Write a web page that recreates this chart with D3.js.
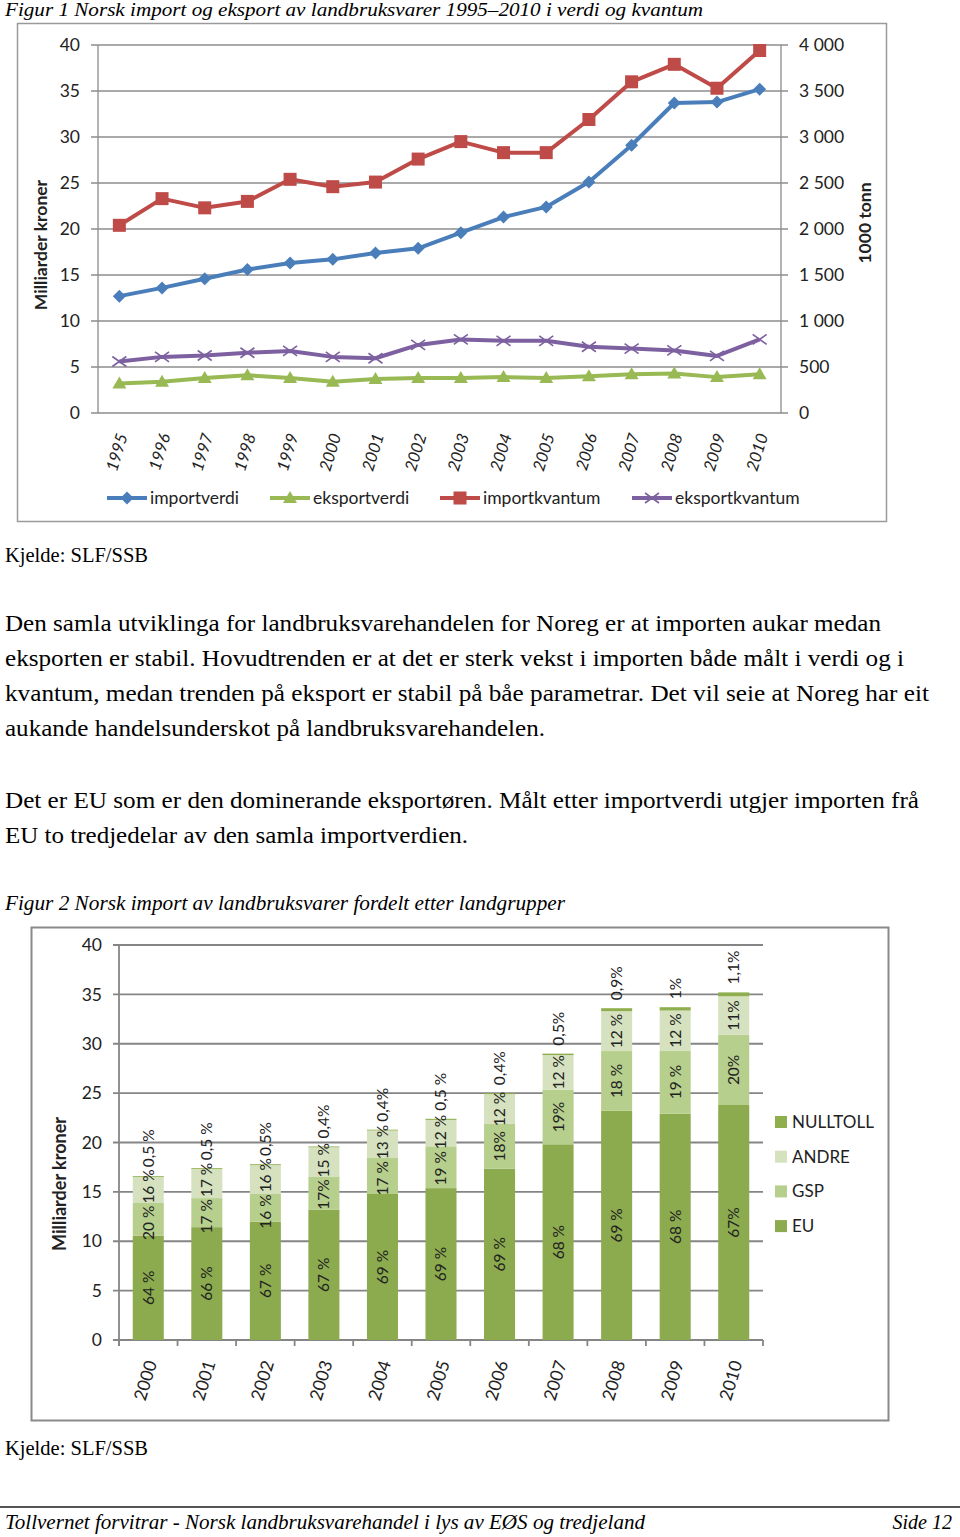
<!DOCTYPE html>
<html><head><meta charset="utf-8">
<script src="https://cdn.jsdelivr.net/npm/d3@7"></script>
<style>
html,body{margin:0;padding:0;background:#fff;}
svg{display:block;}
</style></head>
<body>
<svg id="page" width="960" height="1537"></svg>
<script>
// ---------- DATA ----------
const years1 = ["1995","1996","1997","1998","1999","2000","2001","2002","2003","2004","2005","2006","2007","2008","2009","2010"];
const importverdi = [12.7,13.6,14.6,15.6,16.3,16.7,17.4,17.9,19.6,21.3,22.4,25.1,29.1,33.7,33.8,35.2];
const eksportverdi = [3.2,3.4,3.8,4.1,3.8,3.4,3.7,3.8,3.8,3.9,3.8,4.0,4.2,4.3,3.9,4.2];
const importkvantum = [2040,2330,2230,2300,2540,2460,2510,2760,2950,2830,2830,3190,3600,3790,3530,3940];
const eksportkvantum = [560,610,625,655,675,610,595,740,800,785,785,720,700,680,620,800];
const leftTicks1 = [0,5,10,15,20,25,30,35,40];
const rightTicks1 = [0,500,1000,1500,2000,2500,3000,3500,4000];
const rightTickLabels1 = ["0","500","1 000","1 500","2 000","2 500","3 000","3 500","4 000"];

const years2 = ["2000","2001","2002","2003","2004","2005","2006","2007","2008","2009","2010"];
const totals2 = [16.6,17.4,17.8,19.6,21.3,22.4,25.0,29.0,33.6,33.7,35.2];
const euPct = [64,66,67,67,69,69,69,68,69,68,67];
const gspPct = [20,17,16,17,17,19,18,19,18,19,20];
const andrePct = [16,17,16,15,13,12,12,12,12,12,11];
const nulltollPct = [0.5,0.5,0.5,0.4,0.4,0.5,0.4,0.5,0.9,1,1.1];
const euLabels = ["64 %","66 %","67 %","67 %","69 %","69 %","69 %","68 %","69 %","68 %","67%"];
const gspLabels = ["20 %","17 %","16 %","17%","17 %","19 %","18%","19%","18 %","19 %","20%"];
const andreLabels = ["16 %","17 %","16 %","15 %","13 %","12 %","12 %","12 %","12 %","12 %","11%"];
const nulltollLabels = ["0,5 %","0,5 %","0,5%","0,4%","0,4%","0,5 %","0,4%","0,5%","0,9%","1%","1,1%"];
const ticks2 = [0,5,10,15,20,25,30,35,40];

const para1 = [
 "Den samla utviklinga for landbruksvarehandelen for Noreg er at importen aukar medan",
 "eksporten er stabil. Hovudtrenden er at det er sterk vekst i importen både målt i verdi og i",
 "kvantum, medan trenden på eksport er stabil på båe parametrar. Det vil seie at Noreg har eit",
 "aukande handelsunderskot på landbruksvarehandelen."
];
const para1Len = [876,899,924,540];
const para2 = [
 "Det er EU som er den dominerande eksportøren. Målt etter importverdi utgjer importen frå",
 "EU to tredjedelar av den samla importverdien."
];
const para2Len = [914,463];

// ---------- PAGE ----------
const svg = d3.select("#page");
svg.append("rect").attr("width",960).attr("height",1537).attr("fill","#fff");
const serif = "'Liberation Serif','Times New Roman',serif";
const sans = "Lato, 'Open Sans', sans-serif";

function stext(x,y,t,size,len,italic){
  const e = svg.append("text").attr("x",x).attr("y",y).attr("font-family",serif).attr("font-size",size).attr("fill","#000").text(t);
  if(italic) e.attr("font-style","italic");
  if(len) e.attr("textLength",len).attr("lengthAdjust","spacingAndGlyphs");
  return e;
}
stext(5,16,"Figur 1  Norsk import og eksport av landbruksvarer 1995–2010 i verdi og kvantum",19,698,true);
stext(5,562,"Kjelde: SLF/SSB",20,143,false);
para1.forEach((t,i)=>stext(5,631+i*35,t,24,para1Len[i],false));
para2.forEach((t,i)=>stext(5,808+i*35,t,24,para2Len[i],false));
stext(5,910,"Figur 2  Norsk import av landbruksvarer fordelt etter landgrupper",20,560,true);
stext(5,1455,"Kjelde: SLF/SSB",20,143,false);
svg.append("line").attr("x1",0).attr("x2",960).attr("y1",1507).attr("y2",1507).attr("stroke","#555").attr("stroke-width",2);
stext(5,1529,"Tollvernet forvitrar - Norsk landbruksvarehandel i lys av EØS og tredjeland",20,640,true);
stext(952,1529,"Side 12",20,null,true).attr("text-anchor","end");

// ---------- CHART 1 ----------
const c1 = svg.append("g");
c1.append("rect").attr("x",17.5).attr("y",23.5).attr("width",869).attr("height",498).attr("fill","#fff").attr("stroke","#9a9a9a").attr("stroke-width",1.5);
const x1 = d3.scaleBand().domain(years1).range([98,781]);
const cx1 = d => x1(d)+x1.bandwidth()/2;
const yL = d3.scaleLinear().domain([0,40]).range([413,45]);
const yR = d3.scaleLinear().domain([0,4000]).range([413,45]);

c1.selectAll(".g1").data(leftTicks1).join("line").attr("x1",91).attr("x2",788)
  .attr("y1",d=>yL(d)).attr("y2",d=>yL(d)).attr("stroke","#8c8c8c").attr("stroke-width",1.3);
c1.append("line").attr("x1",98).attr("x2",98).attr("y1",45).attr("y2",413).attr("stroke","#8c8c8c").attr("stroke-width",1.3);
c1.append("line").attr("x1",781).attr("x2",781).attr("y1",45).attr("y2",413).attr("stroke","#8c8c8c").attr("stroke-width",1.3);
c1.selectAll(".tl").data(leftTicks1).join("text").attr("x",80).attr("y",d=>yL(d)).attr("dy","0.35em")
  .attr("text-anchor","end").attr("font-family",sans).attr("font-size",17.5).attr("fill","#222").text(d=>d);
c1.selectAll(".tr").data(rightTicks1).join("text").attr("x",799).attr("y",d=>yR(d)).attr("dy","0.35em")
  .attr("text-anchor","start").attr("font-family",sans).attr("font-size",17.5).attr("fill","#222").text((d,i)=>rightTickLabels1[i]);
c1.selectAll(".yr").data(years1).join("text")
  .attr("transform",d=>`translate(${cx1(d)+3},434) rotate(-73)`).attr("dy","0.35em")
  .attr("text-anchor","end").attr("font-family",sans).attr("font-style","italic").attr("font-size",16.5).attr("fill","#222").text(d=>d);
c1.append("text").attr("transform","translate(41,245) rotate(-90)").attr("dy","0.35em").attr("text-anchor","middle")
  .attr("font-family",sans).attr("font-weight","bold").attr("font-size",17.5).attr("fill","#222").text("Milliarder kroner");
c1.append("text").attr("transform","translate(865,223) rotate(-90)").attr("dy","0.35em").attr("text-anchor","middle")
  .attr("font-family",sans).attr("font-weight","bold").attr("font-size",17.5).attr("fill","#222").text("1000 tonn");

const series1 = [
  {name:"importverdi", vals:importverdi, scale:yL, color:"#4a7ebb", marker:"diamond"},
  {name:"eksportverdi", vals:eksportverdi, scale:yL, color:"#98b954", marker:"triangle"},
  {name:"importkvantum", vals:importkvantum, scale:yR, color:"#be4b48", marker:"square"},
  {name:"eksportkvantum", vals:eksportkvantum, scale:yR, color:"#7d60a0", marker:"x"}
];
function drawMarker(g, type, color){
  if(type==="diamond") g.append("path").attr("d","M0,-6.5L6.5,0L0,6.5L-6.5,0Z").attr("fill",color);
  else if(type==="square") g.append("rect").attr("x",-6.5).attr("y",-6.5).attr("width",13).attr("height",13).attr("fill",color);
  else if(type==="triangle") g.append("path").attr("d","M0,-7L7,5L-7,5Z").attr("fill",color);
  else if(type==="x") g.append("path").attr("d","M-7,-5L7,5M-7,5L7,-5").attr("stroke",color).attr("stroke-width",1.6).attr("fill","none");
}
const drawOrder = [1,3,0,2];
drawOrder.forEach(si=>{
  const s = series1[si];
  const line = d3.line().x((d,i)=>cx1(years1[i])).y(d=>s.scale(d));
  c1.append("path").attr("d",line(s.vals)).attr("fill","none").attr("stroke",s.color).attr("stroke-width",4).attr("stroke-linejoin","round");
  s.vals.forEach((v,i)=>{
    const g = c1.append("g").attr("transform",`translate(${cx1(years1[i])},${s.scale(v)})`);
    drawMarker(g,s.marker,s.color);
  });
});
const leg1X = [107,270,440,632];
series1.forEach((s,i)=>{
  const g = c1.append("g").attr("transform",`translate(${leg1X[i]},498)`);
  g.append("line").attr("x1",0).attr("x2",40).attr("stroke",s.color).attr("stroke-width",4);
  const m = g.append("g").attr("transform","translate(20,0)");
  drawMarker(m,s.marker,s.color);
  g.append("text").attr("x",43).attr("dy","0.35em").attr("font-family",sans).attr("font-size",17.5).attr("fill","#222").text(s.name);
});

// ---------- CHART 2 ----------
const c2 = svg.append("g");
c2.append("rect").attr("x",31.5).attr("y",927.5).attr("width",857).attr("height",493).attr("fill","#fff").attr("stroke","#8a8a8a").attr("stroke-width",2);
const x2 = d3.scaleBand().domain(years2).range([119,763]).paddingInner(0.47).paddingOuter(0.235);
const y2 = d3.scaleLinear().domain([0,40]).range([1340,945]);
c2.selectAll(".g2").data(ticks2).join("line").attr("x1",113).attr("x2",763)
  .attr("y1",d=>y2(d)).attr("y2",d=>y2(d)).attr("stroke","#858585").attr("stroke-width",1.8);
c2.append("line").attr("x1",119).attr("x2",119).attr("y1",945).attr("y2",1346).attr("stroke","#858585").attr("stroke-width",1.8);
d3.range(years2.length+1).forEach(i=>{
  const xx = 119 + i*x2.step();
  c2.append("line").attr("x1",xx).attr("x2",xx).attr("y1",1340).attr("y2",1346).attr("stroke","#858585").attr("stroke-width",1.8);
});
c2.selectAll(".t2").data(ticks2).join("text").attr("x",102).attr("y",d=>y2(d)).attr("dy","0.35em")
  .attr("text-anchor","end").attr("font-family",sans).attr("font-size",17.5).attr("fill","#222").text(d=>d);
c2.append("text").attr("transform","translate(60,1184) rotate(-90)").attr("dy","0.35em").attr("text-anchor","middle")
  .attr("font-family",sans).attr("font-weight","bold").attr("font-size",18).attr("fill","#222").text("Milliarder kroner");
c2.selectAll(".y2").data(years2).join("text")
  .attr("transform",d=>`translate(${x2(d)+x2.bandwidth()/2+3},1361) rotate(-73)`).attr("dy","0.35em")
  .attr("text-anchor","end").attr("font-family",sans).attr("font-size",17.5).attr("fill","#222").text(d=>d);

const keys = ["EU","GSP","ANDRE","NULLTOLL"];
const colors2 = {EU:"#8caa4e", GSP:"#b7cf8d", ANDRE:"#d6e2bf", NULLTOLL:"#8fae4d"};
const pcts = {EU:euPct, GSP:gspPct, ANDRE:andrePct, NULLTOLL:nulltollPct};
const labels2 = {EU:euLabels, GSP:gspLabels, ANDRE:andreLabels, NULLTOLL:nulltollLabels};
const table2 = years2.map((yr,i)=>{
  const sum = euPct[i]+gspPct[i]+andrePct[i]+nulltollPct[i];
  const row = {year:yr};
  keys.forEach(k=>row[k]=totals2[i]*pcts[k][i]/sum);
  return row;
});
const stacked = d3.stack().keys(keys)(table2);
stacked.forEach(layer=>{
  c2.selectAll(null).data(layer).join("rect")
    .attr("x",d=>x2(d.data.year)).attr("width",x2.bandwidth())
    .attr("y",d=>y2(d[1])).attr("height",d=>y2(d[0])-y2(d[1]))
    .attr("fill",colors2[layer.key]);
});
// labels with simple de-overlap per bar
const gap = 2;
years2.forEach((yr,i)=>{
  const cx = x2(yr)+x2.bandwidth()/2;
  const items = stacked.map(layer=>{
    const d = layer[i];
    const t = c2.append("text").attr("dy","0.35em").attr("text-anchor","middle")
      .attr("font-family",sans).attr("font-size",15.5).attr("fill","#222").text(labels2[layer.key][i]);
    const len = t.node().getComputedTextLength();
    let c = layer.key==="NULLTOLL" ? y2(d[1]) - 8 - len/2 : (y2(d[0])+y2(d[1]))/2;
    return {t, len, c, key:layer.key};
  });
  // resolve GSP/ANDRE overlap symmetrically
  const g = items[1], a = items[2], n = items[3];
  const need = (g.len+a.len)/2 + gap;
  const have = g.c - a.c;
  if(have < need){ const o = need - have; g.c += o/2; a.c -= o/2; }
  const needN = (a.len+n.len)/2 + gap;
  if(a.c - n.c < needN){ n.c = a.c - needN; }
  items.forEach(it=>it.t.attr("transform",`translate(${cx},${it.c}) rotate(-90)`));
});
const legKeys = ["NULLTOLL","ANDRE","GSP","EU"];
legKeys.forEach((k,i)=>{
  const yy = 1122 + i*34.7;
  c2.append("rect").attr("x",775).attr("y",yy-6).attr("width",12).attr("height",12).attr("fill",colors2[k]);
  c2.append("text").attr("x",792).attr("y",yy).attr("dy","0.35em").attr("font-family",sans).attr("font-size",17).attr("fill","#222").text(k);
});
</script>
</body></html>
